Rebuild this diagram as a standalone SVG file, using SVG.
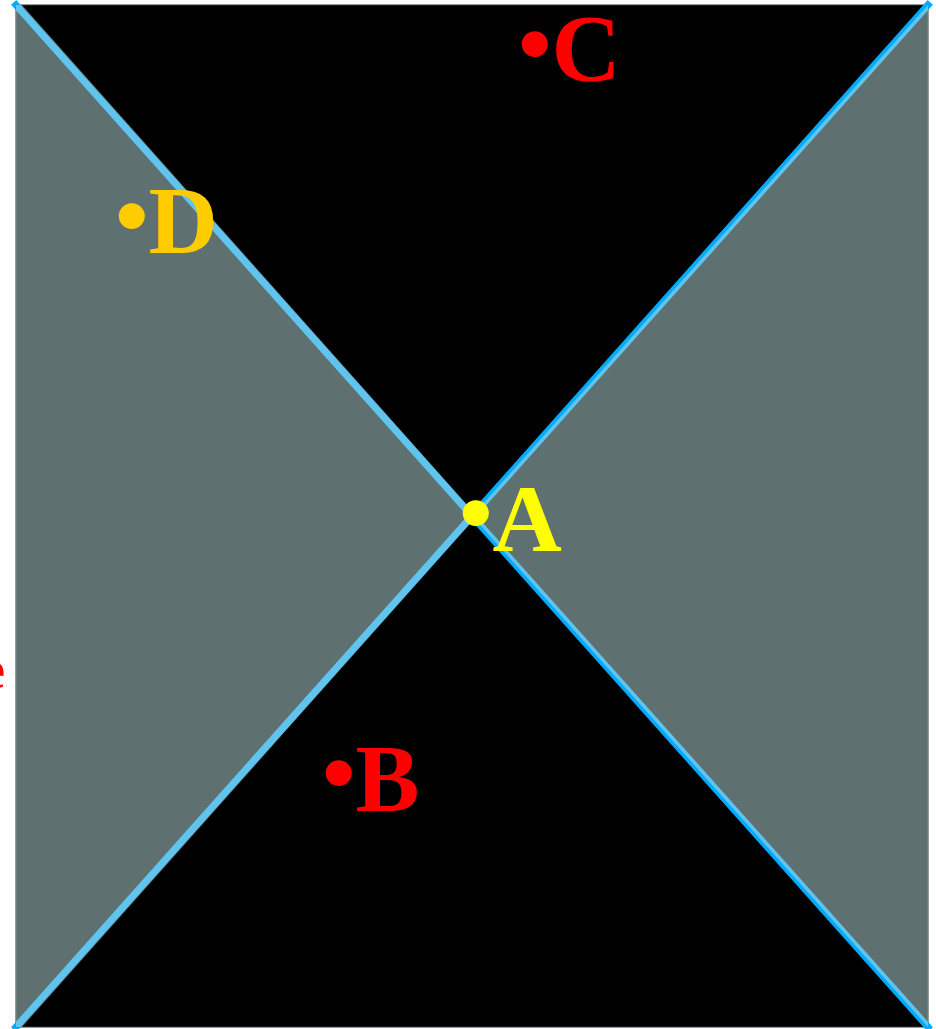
<svg xmlns="http://www.w3.org/2000/svg" width="936" height="1029" viewBox="0 0 936 1029">
  <style>
    .line { stroke: #00aaff; stroke-width: 7; fill: none; stroke-linecap: square; }
    .veil { fill: #bee0e0; fill-opacity: 0.5; }
    .lbl { font-family: "Liberation Serif", "Times New Roman", serif; font-weight: bold; font-size: 96px; }
  </style>
  <rect width="936" height="1029" fill="#ffffff"/>
  <g id="background">
    <rect x="16" y="5" width="912" height="1022" fill="#000000" stroke="#2f3a3a" stroke-width="1"/>
  </g>
  <g id="connectors">
    <line class="line" x1="16" y1="5" x2="928" y2="1027"/>
    <line class="line" x1="16" y1="1027" x2="928" y2="5"/>
  </g>
  <g id="regions">
    <polygon class="veil" points="16,5 22,5 477,516 22,1027 16,1027"/>
    <polygon class="veil" points="472,516 928,5 928,1027"/>
  </g>
  <g id="node-A">
    <text class="lbl" x="459" y="551" fill="#ffff00"><tspan dy="-6">•</tspan><tspan dy="6">A</tspan></text>
  </g>
  <g id="node-B">
    <text class="lbl" x="322" y="811" fill="#ff0000"><tspan dy="-6">•</tspan><tspan dy="6">B</tspan></text>
  </g>
  <g id="node-C">
    <text class="lbl" x="518" y="81" fill="#ff0000"><tspan dy="-5">•</tspan><tspan dy="5">C</tspan></text>
  </g>
  <g id="node-D">
    <text class="lbl" x="115" y="253" fill="#ffcc00"><tspan dy="-5">•</tspan><tspan dy="5">D</tspan></text>
  </g>
  <g id="node-e">
    <text class="lbl" x="5" y="688" fill="#ff0000" text-anchor="end" style="font-size:54px">e</text>
  </g>
</svg>
